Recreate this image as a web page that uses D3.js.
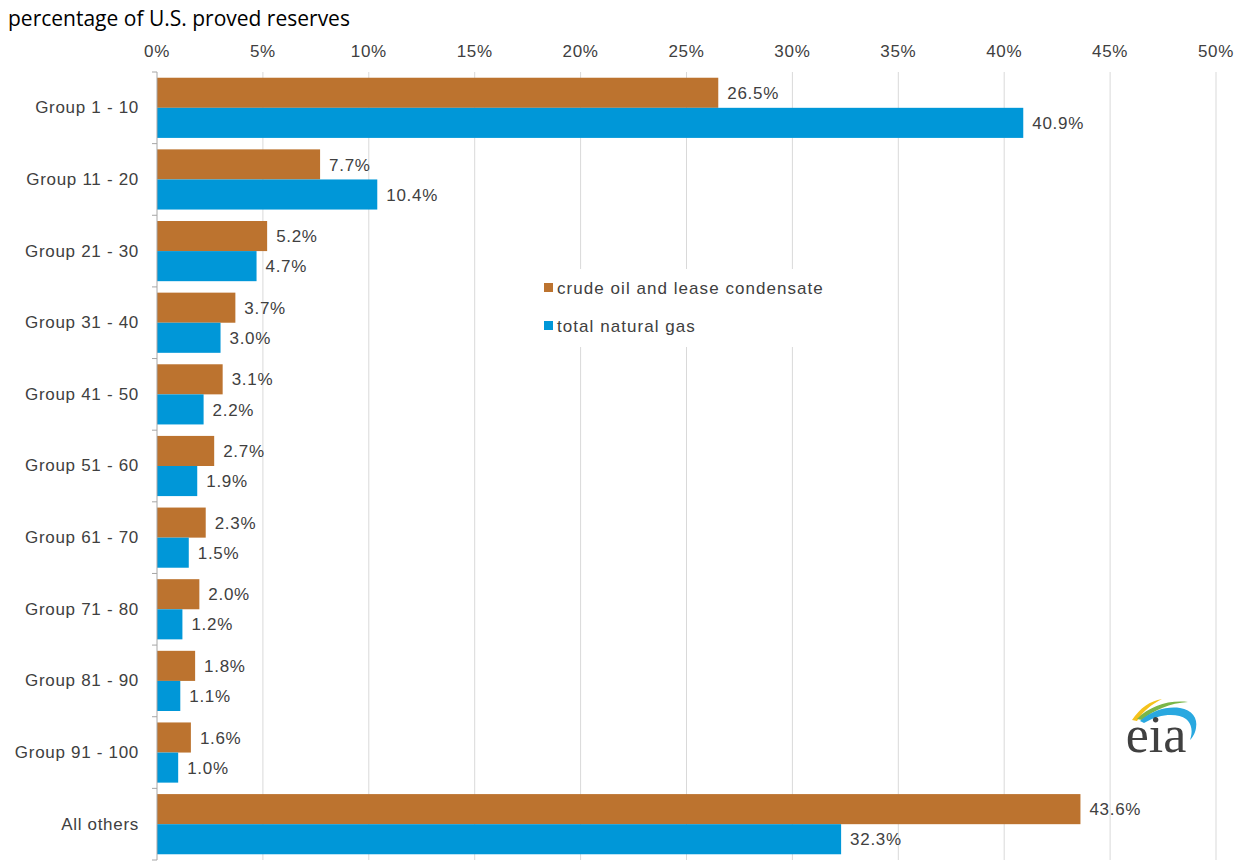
<!DOCTYPE html>
<html>
<head>
<meta charset="utf-8">
<script src="https://cdn.jsdelivr.net/npm/d3@7"></script>
<style>
  body { margin: 0; background: #fff; }
  text { font-family: "Liberation Sans", Arial, sans-serif; }
</style>
</head>
<body>
<svg class="chart" width="1241" height="861"></svg>
<script>
var groups = ["Group 1 - 10", "Group 11 - 20", "Group 21 - 30", "Group 31 - 40", "Group 41 - 50",
  "Group 51 - 60", "Group 61 - 70", "Group 71 - 80", "Group 81 - 90", "Group 91 - 100", "All others"];
var crudeOil = [26.5, 7.7, 5.2, 3.7, 3.1, 2.7, 2.3, 2.0, 1.8, 1.6, 43.6];
var naturalGas = [40.9, 10.4, 4.7, 3.0, 2.2, 1.9, 1.5, 1.2, 1.1, 1.0, 32.3];
var seriesNames = ["crude oil and lease condensate", "total natural gas"];
var xTicks = [0, 5, 10, 15, 20, 25, 30, 35, 40, 45, 50];

var colors = ["#bc732f", "#0097d8"];

var svg = d3.select("svg.chart"),
    margin = { top: 72, left: 157, right: 25, bottom: 1 },
    height = +svg.attr("height") - margin.top - margin.bottom;

var x = d3.scaleLinear().domain([0, 50]).range([0, 1059]);
var y = d3.scaleBand().domain(groups).range([0, height]).paddingInner(0.16).paddingOuter(0.08);
var sub = d3.scaleBand().domain([0, 1]).range([0, y.bandwidth()]);

function label(sel) {
    return sel.style("font-size", "17px").style("letter-spacing", "0.7px").attr("fill", "#404040");
}

svg.append("text")
    .attr("x", 8).attr("y", 26)
    .style("font-family", "'Open Sans', 'Liberation Sans', sans-serif")
    .style("font-size", "21px")
    .attr("fill", "#000")
    .text("percentage of U.S. proved reserves");

var g = svg.append("g").attr("transform", "translate(" + margin.left + "," + margin.top + ")");

// gridlines
g.selectAll(".grid")
    .data(xTicks.slice(1))
    .enter().append("line")
    .attr("x1", function (d) { return x(d); })
    .attr("x2", function (d) { return x(d); })
    .attr("y1", 0).attr("y2", height)
    .attr("stroke", "#d9d9d9").attr("stroke-width", 1);

// x tick labels on top
g.selectAll(".xlab")
    .data(xTicks)
    .enter().append("text")
    .attr("x", function (d) { return x(d); })
    .attr("y", -15)
    .attr("text-anchor", "middle")
    .call(label)
    .text(function (d) { return d + "%"; });

// bars
var rows = groups.map(function (name, i) { return { name: name, vals: [crudeOil[i], naturalGas[i]] }; });

var row = g.selectAll(".row")
    .data(rows)
    .enter().append("g")
    .attr("transform", function (d) { return "translate(0," + y(d.name) + ")"; });

row.selectAll("rect")
    .data(function (d) { return d.vals; })
    .enter().append("rect")
    .attr("x", 0)
    .attr("y", function (d, i) { return sub(i); })
    .attr("width", function (d) { return x(d); })
    .attr("height", sub.bandwidth())
    .attr("fill", function (d, i) { return colors[i]; });

row.selectAll(".val")
    .data(function (d) { return d.vals; })
    .enter().append("text")
    .attr("x", function (d) { return x(d) + 9; })
    .attr("y", function (d, i) { return sub(i) + sub.bandwidth() / 2; })
    .attr("dy", "0.36em")
    .call(label)
    .text(function (d) { return d.toFixed(1) + "%"; });

// y axis
var yAxis = g.append("g").call(d3.axisLeft(y).tickSize(0).tickPadding(18));
yAxis.select(".domain").remove();
yAxis.selectAll("text").call(label).style("font-family", "'Liberation Sans', Arial, sans-serif");

var bounds = groups.map(function (d) { return y(d) - y.step() * y.paddingInner() / 2; });
bounds[0] = 0;
bounds.push(height);
g.selectAll(".ytick")
    .data(bounds)
    .enter().append("line")
    .attr("x1", -5).attr("x2", 0)
    .attr("y1", function (d) { return d; }).attr("y2", function (d) { return d; })
    .attr("stroke", "#a6a6a6");
g.append("line")
    .attr("x1", 0).attr("x2", 0).attr("y1", 0).attr("y2", height)
    .attr("stroke", "#a6a6a6");

// legend
var legend = svg.append("g").attr("transform", "translate(530,269)");
legend.append("rect").attr("width", 315).attr("height", 78).attr("fill", "#fff");
var item = legend.selectAll(".item")
    .data(seriesNames)
    .enter().append("g")
    .attr("transform", function (d, i) { return "translate(0," + (19 + i * 38) + ")"; });
item.append("rect")
    .attr("x", 14).attr("y", -5).attr("width", 9).attr("height", 9)
    .attr("fill", function (d, i) { return colors[i]; });
item.append("text")
    .attr("x", 27).attr("dy", "0.36em")
    .call(label)
    .style("letter-spacing", "1.05px")
    .text(function (d) { return d; });

// eia logo
var logo = svg.append("g").attr("transform", "translate(1122,696)");
logo.append("path").attr("d", "M10,24 C18,12 28,5 40,3 C30,8 21,15 15,25 Z").attr("fill", "#f5c21b");
logo.append("path").attr("d", "M15,23 C28,10 46,4 66,6 C48,7 32,14 20,24 Z").attr("fill", "#7ab648");
logo.append("path").attr("d", "M18,25 C30,14 46,10 58,12 C70,14 76,22 74,32 C73,38 70,42 68,44 C71,36 70,28 64,23 C56,17 38,17 22,27 Z").attr("fill", "#29a8e0");
logo.append("text")
    .attr("x", 34).attr("y", 56)
    .attr("text-anchor", "middle")
    .style("font-family", "'Liberation Serif', 'DejaVu Serif', serif")
    .style("font-size", "52px")
    .attr("fill", "#404040")
    .text("eia");
</script>
</body>
</html>
